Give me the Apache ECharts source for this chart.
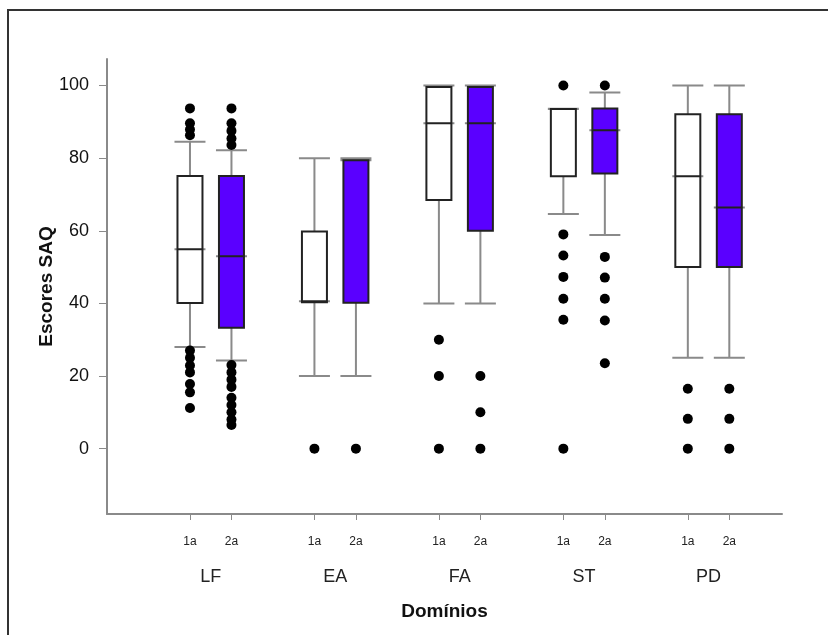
<!DOCTYPE html>
<html>
<head>
<meta charset="utf-8">
<title>Escores SAQ</title>
<script src="https://cdn.jsdelivr.net/npm/echarts@6/dist/echarts.min.js"></script>
<style>
  html, body { margin: 0; padding: 0; background: #fff; }
  #main { width: 828px; height: 635px; }
</style>
</head>
<body>
<div id="main"></div>
<script>
// domínios e medições
let groups = ['LF', 'EA', 'FA', 'ST', 'PD'];
let waves = ['1a', '2a'];
let yTicks = [0, 20, 40, 60, 80, 100];

// [min, Q1, mediana, Q3, max] por domínio
let box1a = [
  [28, 40.1, 54.9, 75.1, 84.5],
  [20, 40.3, 40.6, 59.8, 80],
  [40, 68.5, 89.6, 99.6, 100],
  [64.6, 75, 93.5, 93.5, 93.6],
  [25, 50, 75, 92.1, 100]
];
let box2a = [
  [24.3, 33.3, 53, 75.1, 82.2],
  [20, 40.2, 79.4, 79.4, 80],
  [40, 60, 89.6, 99.6, 100],
  [58.8, 75.8, 87.7, 93.7, 98.1],
  [25, 50, 66.4, 92.1, 100]
];

// pontos extremos
let out1a = [
  [93.7, 89.6, 87.9, 86.3, 27, 25, 22.9, 21, 17.8, 15.5, 11.2],
  [0],
  [30, 20, 0],
  [100, 59, 53.2, 47.3, 41.3, 35.5, 0],
  [16.5, 8.2, 0]
];
let out2a = [
  [93.7, 89.6, 87.5, 85.4, 83.6, 23, 21, 19, 17, 14, 12, 10, 8, 6.5],
  [0],
  [20, 10, 0],
  [100, 52.8, 47.1, 41.3, 35.3, 23.5],
  [16.5, 8.2, 0]
];

let fills = ['#ffffff', '#5a00ff'];

function slot(g, w) { // posição no eixo x
  return 2 + g * 3 + w;
}

let whiskerData = [];
let boxData = [];
let outlierData = [];
[box1a, box2a].forEach(function (boxes, w) {
  boxes.forEach(function (b, g) {
    let x = slot(g, w);
    // bigodes + mediana larga (por baixo da caixa)
    whiskerData.push({ value: [x, b[0], b[2], b[2], b[2], b[4]] });
    boxData.push({ value: [x, b[1], b[1], b[2], b[3], b[3]], itemStyle: { color: fills[w] } });
  });
});
[out1a, out2a].forEach(function (outs, w) {
  outs.forEach(function (list, g) {
    list.forEach(function (v) {
      outlierData.push([slot(g, w), v]);
    });
  });
});

let tickSlots = [];
let groupSlots = [];
groups.forEach(function (name, g) {
  tickSlots.push(slot(g, 0), slot(g, 1));
  groupSlots.push(slot(g, 0) + 0.5);
});

let chart = echarts.init(document.getElementById('main'), null, { renderer: 'canvas' });

let option = {
  animation: false,
  backgroundColor: '#fff',
  graphic: [{
    type: 'rect',
    shape: { x: 8, y: 10, width: 900, height: 700 },
    style: { fill: 'none', stroke: '#333', lineWidth: 2 },
    silent: true
  }],
  grid: {
    left: 107,
    right: 46,
    top: 59,
    bottom: 121
  },
  xAxis: [
    {
      type: 'value',
      min: 0,
      max: 16.27,
      axisLine: { show: true, onZero: false, lineStyle: { color: '#8a8a8a', width: 2 } },
      axisTick: { show: true, customValues: tickSlots, length: 6, lineStyle: { color: '#8a8a8a', width: 1 } },
      axisLabel: {
        show: true,
        customValues: tickSlots,
        margin: 22,
        color: '#222',
        fontSize: 12,
        fontFamily: 'Liberation Sans Narrow, Liberation Sans, sans-serif',
        formatter: function (v) {
          return waves[(Math.round(v) - 2) % 3];
        }
      },
      splitLine: { show: false }
    },
    {
      type: 'value',
      min: 0,
      max: 16.27,
      position: 'bottom',
      axisLine: { show: false, onZero: false },
      axisTick: { show: false },
      axisLabel: {
        show: true,
        customValues: groupSlots,
        margin: 54,
        color: '#222',
        fontSize: 18,
        fontFamily: 'Liberation Sans Narrow, Liberation Sans, sans-serif',
        formatter: function (v) {
          return groups[Math.round((v - 2.5) / 3)];
        }
      },
      splitLine: { show: false },
      name: 'Domínios',
      nameLocation: 'middle',
      nameGap: 88,
      nameMoveOverlap: false,
      nameTextStyle: { color: '#111', fontSize: 19, fontWeight: 'bold', fontFamily: 'Liberation Sans, sans-serif' }
    }
  ],
  yAxis: {
    type: 'value',
    min: -18,
    max: 107.3,
    name: 'Escores SAQ',
    nameLocation: 'middle',
    nameGap: 51,
    nameMoveOverlap: false,
    nameTextStyle: { color: '#111', fontSize: 19, fontWeight: 'bold', fontFamily: 'Liberation Sans, sans-serif' },
    axisLine: { show: true, onZero: false, lineStyle: { color: '#8a8a8a', width: 2 } },
    axisTick: { show: true, customValues: yTicks, length: 8, lineStyle: { color: '#8a8a8a', width: 1 } },
    axisLabel: {
      show: true,
      customValues: yTicks,
      margin: 18,
      color: '#111',
      fontSize: 18,
      fontFamily: 'Liberation Sans, sans-serif'
    },
    splitLine: { show: false }
  },
  series: [
    {
      name: 'whiskers',
      type: 'boxplot',
      layout: 'horizontal',
      xAxisIndex: 0,
      z: 2,
      boxWidth: [31, 31],
      itemStyle: { color: '#fff', borderColor: '#8a8a8a', borderWidth: 2 },
      data: whiskerData
    },
    {
      name: 'boxes',
      type: 'boxplot',
      layout: 'horizontal',
      xAxisIndex: 1,
      z: 3,
      boxWidth: [25, 25],
      itemStyle: { borderColor: '#222', borderWidth: 2 },
      data: boxData
    },
    {
      name: 'outliers',
      type: 'scatter',
      xAxisIndex: 0,
      z: 4,
      symbol: 'circle',
      symbolSize: 10,
      itemStyle: { color: '#000', opacity: 1 },
      data: outlierData
    }
  ]
};

chart.setOption(option);
</script>
</body>
</html>
